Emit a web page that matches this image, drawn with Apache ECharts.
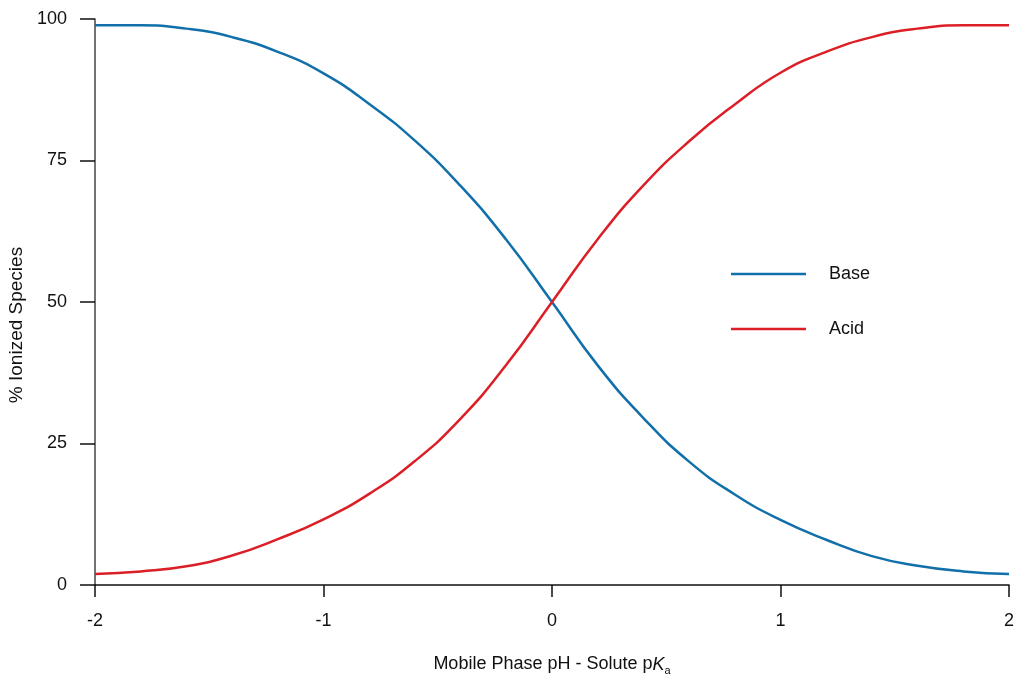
<!DOCTYPE html>
<html>
<head>
<meta charset="utf-8">
<script src="https://cdn.jsdelivr.net/npm/echarts@6/dist/echarts.min.js"></script>
<style>
  html, body { margin: 0; padding: 0; background: #fff; }
  #main { width: 1024px; height: 676px; }
</style>
</head>
<body>
<div id="main"></div>
<script>
// pH - pKa positions where the curves were read
var phOffsets = [-2, -1.8, -1.6, -1.4, -1.2, -1, -0.8, -0.6, -0.4, -0.2, 0,
                 0.2, 0.4, 0.6, 0.8, 1, 1.2, 1.4, 1.6, 1.8, 2];
// % ionized
var baseValues = [98.9, 98.9, 98.3, 96.8, 94.2, 90.4, 85.0, 78.5, 70.5, 61.0, 50.0,
                  38.8, 29.5, 21.8, 16.0, 11.5, 8.0, 5.1, 3.4, 2.4, 1.95];
var acidValues = [1.95, 2.4, 3.3, 5.2, 8.1, 11.6, 16.1, 21.9, 29.4, 38.9, 50.0,
                  61.1, 70.6, 78.4, 84.9, 90.5, 94.2, 96.8, 98.3, 98.9, 98.9];
var seriesNames = ['Base', 'Acid'];
var yTicks = [0, 25, 50, 75, 100];

var chart = echarts.init(document.getElementById('main'));

function pairs(vals) {
    return phOffsets.map(function (x, i) { return [x, vals[i]]; });
}

var font = 'Liberation Sans, Arial, Helvetica, sans-serif';

var option = {
    animation: false,
    textStyle: { fontFamily: font },
    grid: { left: 95, right: 15, top: 19, bottom: 91, outerBoundsMode: 'none', containLabel: false },
    legend: {
        orient: 'vertical',
        left: 726,
        top: 259,
        icon: 'rect',
        itemWidth: 75,
        itemHeight: 2.5,
        itemGap: 35,
        data: seriesNames,
        textStyle: { fontSize: 18, color: '#111', lineHeight: 20, padding: [0, 0, 0, 18], fontFamily: font }
    },
    xAxis: {
        type: 'value',
        min: -2,
        max: 2,
        interval: 1,
        name: '{n|Mobile Phase pH - Solute p}{k|K}{s|a}',
        nameLocation: 'middle',
        nameGap: 68,
        nameTextStyle: {
            rich: {
                n: { fontSize: 18, color: '#111', fontFamily: font },
                k: { fontSize: 18, color: '#111', fontStyle: 'italic', fontFamily: font },
                s: { fontSize: 11, color: '#111', fontFamily: font, padding: [12, 0, 0, 0] }
            }
        },
        axisLine: { onZero: false, lineStyle: { color: '#111', width: 1.5 } },
        axisTick: { length: 12, lineStyle: { color: '#111', width: 1.5 } },
        axisLabel: { fontSize: 18, color: '#111', margin: 27 },
        splitLine: { show: false }
    },
    yAxis: {
        type: 'value',
        min: yTicks[0],
        max: yTicks[yTicks.length - 1],
        interval: 25,
        name: '% Ionized Species',
        nameLocation: 'middle',
        nameGap: 66,
        nameTextStyle: { fontSize: 19, color: '#111', padding: [0, 46, 0, 0] },
        axisLine: { show: true, onZero: false, lineStyle: { color: '#444', width: 1.5 } },
        axisTick: { show: true, length: 15, lineStyle: { color: '#111', width: 1.5 } },
        axisLabel: { fontSize: 18, color: '#111', margin: 28 },
        splitLine: { show: false }
    },
    series: [{
        name: seriesNames[0],
        type: 'line',
        smooth: true,
        symbol: 'none',
        color: '#1170aa',
        lineStyle: { width: 2.5, color: '#1170aa' },
        data: pairs(baseValues)
    }, {
        name: seriesNames[1],
        type: 'line',
        smooth: true,
        symbol: 'none',
        color: '#dc1f26',
        lineStyle: { width: 2.5, color: '#dc1f26' },
        data: pairs(acidValues)
    }]
};

chart.setOption(option);
</script>
</body>
</html>
